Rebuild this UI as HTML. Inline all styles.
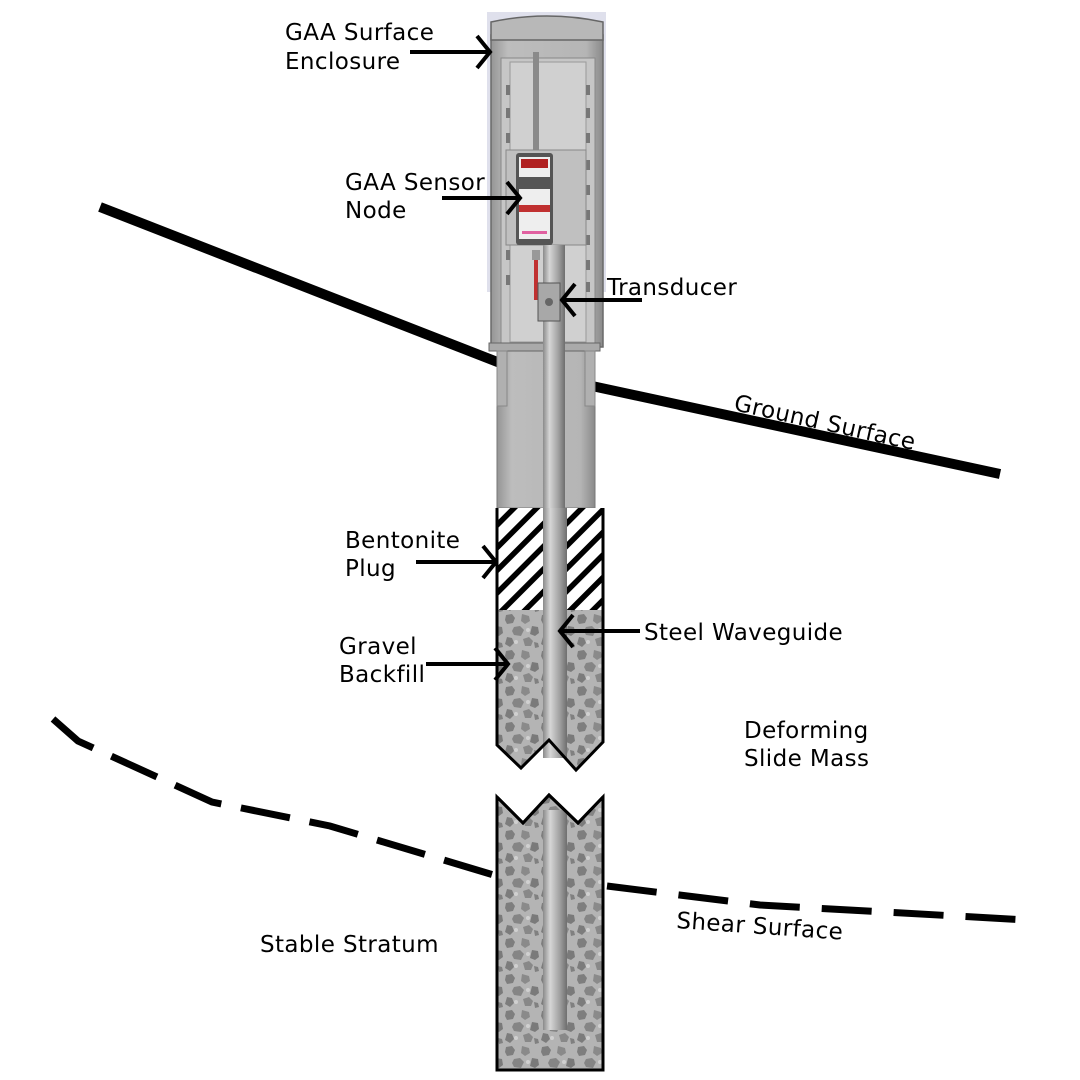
<!DOCTYPE html>
<html><head><meta charset="utf-8"><style>
html,body{margin:0;padding:0;background:#fff}
svg{display:block}
text{font-family:"DejaVu Sans","Liberation Sans",sans-serif;font-size:23px;letter-spacing:0.4px;fill:#000}
</style></head><body>
<svg width="1080" height="1080" viewBox="0 0 1080 1080" xmlns="http://www.w3.org/2000/svg">
<defs>
<pattern id="grav" width="36" height="36" patternUnits="userSpaceOnUse">
<rect width="36" height="36" fill="#b4b4b4"/>
<path d="M2 3l6-1 3 4-2 5-6 1-2-4z" fill="#7e7e7e"/>
<path d="M18 2l7 2 1 5-5 3-4-3z" fill="#8a8a8a"/>
<path d="M28 14l6 1 1 6-4 3-5-2z" fill="#7a7a7a"/>
<path d="M10 15l6-1 4 4-3 6-7-1-2-4z" fill="#858585"/>
<path d="M3 25l5 1 2 5-4 4-5-3z" fill="#7c7c7c"/>
<path d="M19 27l6-2 4 4-2 5-6 0z" fill="#888"/>
<path d="M30 30l4 1 1 4-4 1z" fill="#808080"/>
<circle cx="24" cy="18" r="2" fill="#d0d0d0"/>
<circle cx="12" cy="30" r="2" fill="#d0d0d0"/>
</pattern>
<pattern id="hatch" width="16" height="16" patternUnits="userSpaceOnUse" patternTransform="rotate(-45)">
<rect width="16" height="16" fill="#fff"/>
<rect width="16" height="5.5" fill="#000"/>
</pattern>
<linearGradient id="rod" x1="0" x2="1">
<stop offset="0" stop-color="#8a8a8a"/><stop offset="0.3" stop-color="#d6d6d6"/><stop offset="0.7" stop-color="#a0a0a0"/><stop offset="1" stop-color="#6e6e6e"/>
</linearGradient>
<linearGradient id="enc" x1="0" x2="1">
<stop offset="0" stop-color="#959595"/><stop offset="0.15" stop-color="#bdbdbd"/><stop offset="0.85" stop-color="#b5b5b5"/><stop offset="1" stop-color="#8a8a8a"/>
</linearGradient>
</defs>

<polyline points="100,207 500,363" fill="none" stroke="#000" stroke-width="10"/>
<polyline points="592,386 1000,474" fill="none" stroke="#000" stroke-width="10"/>

<rect x="487" y="12" width="119" height="280" fill="#dfe0ec"/>
<rect x="497" y="345" width="98" height="163" fill="url(#enc)" stroke="#777" stroke-width="1"/>
<rect x="491" y="35" width="112" height="312" fill="url(#enc)" stroke="#6a6a6a" stroke-width="1.5"/>
<path d="M491 40 L491 22 Q547 10 603 22 L603 40 Z" fill="#b8b8b8" stroke="#666" stroke-width="1.5"/>
<rect x="501" y="58" width="94" height="285" fill="#c6c6c6" stroke="#888"/>
<rect x="510" y="62" width="76" height="280" fill="#d0d0d0" stroke="#999"/>
<rect x="489" y="343" width="111" height="8" fill="#aaa" stroke="#666"/>
<rect x="497" y="351" width="10" height="55" fill="#b0b0b0" stroke="#888"/>
<rect x="585" y="351" width="10" height="55" fill="#b0b0b0" stroke="#888"/>
<g fill="#777">
<rect x="506" y="85" width="4" height="10"/><rect x="506" y="108" width="4" height="10"/><rect x="506" y="133" width="4" height="10"/><rect x="506" y="250" width="4" height="10"/><rect x="506" y="275" width="4" height="10"/>
<rect x="586" y="85" width="4" height="10"/><rect x="586" y="108" width="4" height="10"/><rect x="586" y="133" width="4" height="10"/><rect x="586" y="160" width="4" height="10"/><rect x="586" y="185" width="4" height="10"/><rect x="586" y="210" width="4" height="10"/><rect x="586" y="235" width="4" height="10"/><rect x="586" y="260" width="4" height="10"/><rect x="586" y="282" width="4" height="10"/>
</g>
<rect x="533" y="52" width="6" height="100" fill="#8a8a8a"/>
<rect x="506" y="150" width="80" height="95" fill="#c0c0c0" stroke="#888"/>
<rect x="516" y="153" width="37" height="92" rx="3" fill="#555"/>
<rect x="519" y="157" width="31" height="20" fill="#eee"/>
<rect x="521" y="159" width="27" height="9" fill="#b02020"/>
<rect x="519" y="189" width="31" height="50" fill="#eee"/>
<rect x="519" y="205" width="31" height="7" fill="#c03030"/>
<rect x="522" y="231" width="25" height="3" fill="#e060a0"/>
<rect x="543" y="245" width="22" height="265" fill="url(#rod)"/>
<rect x="532" y="250" width="8" height="10" fill="#999"/>
<rect x="534" y="260" width="4" height="40" fill="#c03030"/>
<rect x="538" y="283" width="22" height="38" fill="#a8a8a8" stroke="#555"/>
<circle cx="549" cy="302" r="4" fill="#666"/>

<rect x="497" y="508" width="106" height="104" fill="url(#hatch)"/>
<path d="M497 610 L603 610 L603 742 L576 770 L549 742 L521 768 L497 745 Z" fill="url(#grav)"/>
<rect x="543" y="508" width="24" height="250" fill="url(#rod)"/>
<path d="M497 508 L497 745 L521 768 L549 740 L576 770 L603 742 L603 508" fill="none" stroke="#000" stroke-width="3"/>
<path d="M497 797 L523 823 L549 795 L578 823 L603 797 L603 1070 L497 1070 Z" fill="url(#grav)" stroke="#000" stroke-width="3"/>
<rect x="543" y="810" width="24" height="220" fill="url(#rod)"/>
<path d="M497 797 L523 823 L549 795 L578 823 L603 797" fill="none" stroke="#000" stroke-width="3"/>

<polyline points="53,719 78,741 212,802 330,826 497,876" fill="none" stroke="#000" stroke-width="7" stroke-dasharray="50,20"/>
<polyline points="607,886 760,905 1027,920" fill="none" stroke="#000" stroke-width="7" stroke-dasharray="50,22"/>

<g fill="none" stroke="#000" stroke-width="4">
<path d="M410 52 L488 52 M477 36 L490 52 L477 68"/>
<path d="M442 198 L520 198 M507 182 L520 198 L507 214"/>
<path d="M642 300 L562 300 M575 284 L562 300 L575 316"/>
<path d="M416 562 L496 562 M483 546 L496 562 L483 578"/>
<path d="M426 664 L508 664 M495 648 L508 664 L495 680"/>
<path d="M640 631 L560 631 M573 615 L560 631 L573 647"/>
</g>

<text x="285" y="40">GAA Surface</text>
<text x="285" y="69">Enclosure</text>
<text x="345" y="190">GAA Sensor</text>
<text x="345" y="218">Node</text>
<text x="607" y="295">Transducer</text>
<text x="345" y="548">Bentonite</text>
<text x="345" y="576">Plug</text>
<text x="339" y="654">Gravel</text>
<text x="339" y="682">Backfill</text>
<text x="644" y="640">Steel Waveguide</text>
<text x="744" y="738">Deforming</text>
<text x="744" y="766">Slide Mass</text>
<text x="260" y="952">Stable Stratum</text>
<text x="733" y="410" transform="rotate(12.5 733 410)">Ground Surface</text>
<text x="676" y="928" transform="rotate(4 676 928)">Shear Surface</text>
</svg>
</body></html>
